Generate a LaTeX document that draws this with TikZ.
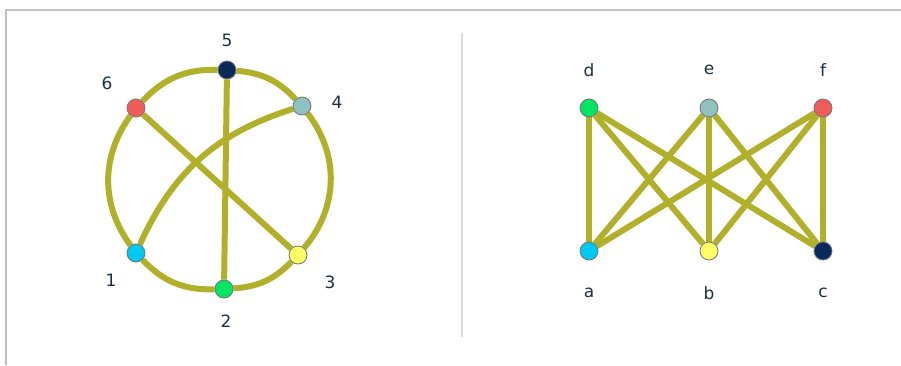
\documentclass[tikz,border=0pt]{standalone}
\usepackage{fontspec}
\setmainfont{DejaVu Sans}
\usetikzlibrary{positioning, backgrounds}
\definecolor{edgeolive}{RGB}{176,176,42}
\definecolor{labelblue}{RGB}{26,48,64}
\definecolor{framegray}{RGB}{192,192,192}
\definecolor{divgray}{RGB}{218,218,218}
\definecolor{cnavy}{RGB}{10,42,92}
\definecolor{csalmon}{RGB}{240,92,92}
\definecolor{cteal}{RGB}{144,192,192}
\definecolor{ccyan}{RGB}{0,200,240}
\definecolor{cyellow}{RGB}{255,255,100}
\definecolor{cgreen}{RGB}{0,230,100}

\begin{document}
\begin{tikzpicture}[x=1pt, y=-1pt,
        vertex/.style={circle, draw=black!55, line width=0.8pt, minimum size=18pt, inner sep=0pt},
        edge/.style={draw=edgeolive, line width=6pt},
        lbl/.style={font=\fontsize{17}{17}\selectfont, text=labelblue, inner sep=0pt}
    ]
        \useasboundingbox (0,0) rectangle (901,365);

        % Grafo circular
        \node [vertex, fill=cnavy] (v5) at (227,70) {};
        \node [vertex, fill=csalmon] (v6) at (136,108) {};
        \node [vertex, fill=cteal] (v4) at (302,106) {};
        \node [vertex, fill=ccyan] (v1) at (136,253) {};
        \node [vertex, fill=cyellow] (v3) at (298,255) {};
        \node [vertex, fill=cgreen] (v2) at (224,289) {};

        \node [lbl] (lab5) at (227,40) {5};
        \node [lbl] (lab6) at (107,83) {6};
        \node [lbl] (lab4) at (337,102) {4};
        \node [lbl] (lab1) at (111,280) {1};
        \node [lbl] (lab3) at (330,282) {3};
        \node [lbl] (lab2) at (226,321) {2};

        % Grafo bipartito
        \node [vertex, fill=cgreen] (vd) at (589,108) {};
        \node [vertex, fill=cteal] (ve) at (709,108) {};
        \node [vertex, fill=csalmon] (vf) at (823,108) {};
        \node [vertex, fill=ccyan] (va) at (589,251) {};
        \node [vertex, fill=cyellow] (vb) at (709,251) {};
        \node [vertex, fill=cnavy] (vc) at (823,251) {};

        \node [lbl] (labd) at (589,70) {d};
        \node [lbl] (labe) at (709,70) {e};
        \node [lbl] (labf) at (823,70) {f};
        \node [lbl] (laba) at (589,293) {a};
        \node [lbl] (labb) at (709,293) {b};
        \node [lbl] (labc) at (823,293) {c};

        \begin{scope}[on background layer]
            % Marco y separador
            \draw [framegray, line width=2pt] (5.5,365) -- (5.5,10) -- (901,10);
            \draw [divgray, line width=2pt] (462,33) -- (462,337);

            % Aristas del ciclo exterior
            \draw [edge] (v5) to[bend right=24] (v6);
            \draw [edge] (v6) to[bend right=36] (v1);
            \draw [edge] (v1) to[bend right=24] (v2);
            \draw [edge] (v2) to[bend right=21] (v3);
            \draw [edge] (v3) to[bend right=39] (v4);
            \draw [edge] (v4) to[bend right=21] (v5);
            % Cuerdas
            \draw [edge] (v5) -- (v2);
            \draw [edge] (v6) -- (v3);
            \draw [edge] (v1) to[bend left=24] (v4);

            % Aristas de K3,3
            \foreach \u in {vd, ve, vf}
                \foreach \w in {va, vb, vc}
                    \draw [edge] (\u) -- (\w);
        \end{scope}
    \end{tikzpicture}
\end{document}
